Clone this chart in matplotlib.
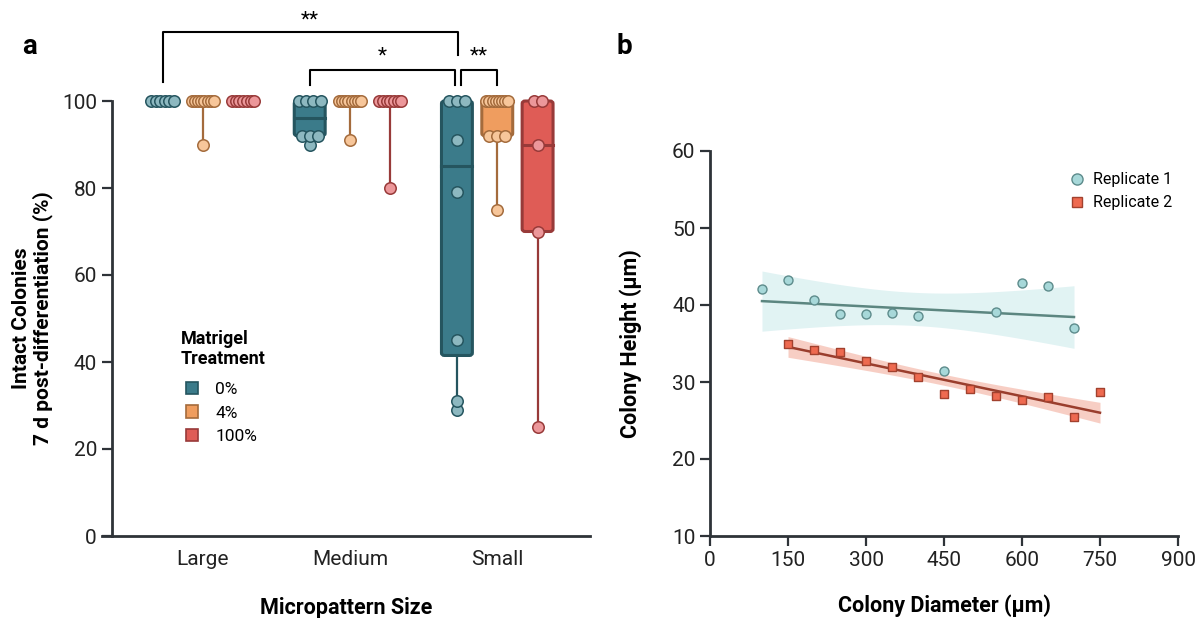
import numpy as np
import matplotlib
matplotlib.use('Agg')
import matplotlib.pyplot as plt
from matplotlib.patches import FancyBboxPatch, Patch
from matplotlib.lines import Line2D

plt.rcParams['font.family'] = ['Roboto', 'DejaVu Sans']

# ---- panel a data (percent intact colonies) ----
SIZES = ['Large', 'Medium', 'Small']
TREAT = ['0%', '4%', '100%']
large_0 = [100, 100, 100, 100, 100, 100]
large_4 = [100, 100, 100, 100, 100, 100, 100, 100, 90]
large_100 = [100, 100, 100, 100, 100, 100, 100]
medium_0 = [100, 100, 100, 100, 92, 92, 92, 90]
medium_4 = [100, 100, 100, 100, 100, 100, 100, 100, 91]
medium_100 = [100, 100, 100, 100, 100, 100, 100, 80]
small_0 = [100, 100, 100, 91, 79, 45, 31, 29]
small_4 = [100, 100, 100, 100, 100, 100, 100, 100, 92, 92, 92, 75]
small_100 = [100, 100, 90, 70, 25]
GROUPS = [[large_0, large_4, large_100],
          [medium_0, medium_4, medium_100],
          [small_0, small_4, small_100]]

# ---- panel b data ----
rep1_x = [100, 150, 200, 250, 300, 350, 400, 450, 550, 600, 650, 700]
rep1_y = [42.1, 43.3, 40.6, 38.8, 38.8, 38.9, 38.6, 31.4, 39.1, 42.9, 42.5, 37.0]
rep2_x = [150, 200, 250, 300, 350, 400, 450, 500, 550, 600, 650, 700, 750]
rep2_y = [35.0, 34.2, 33.9, 32.7, 31.9, 30.6, 28.4, 29.1, 28.2, 27.6, 28.0, 25.4, 28.7]

# (box fill, edge, dot fill)
PAL = [('#3B7B8A', '#25555F', '#8DB8C0'),
       ('#EF9D5F', '#A46B3C', '#F7C69A'),
       ('#DF5C56', '#983A39', '#EC979A')]
C_AX = '#2E3338'
T975 = {10: 2.228, 11: 2.201}
FS_TICK, FS_LAB = 15, 15.5

W, H = 1202, 618
fig = plt.figure(figsize=(W / 100, H / 100), dpi=100)


def px(l, b, r, t):
    return [l / W, 1 - b / H, (r - l) / W, (b - t) / H]


def style(ax):
    for s in ('top', 'right'):
        ax.spines[s].set_visible(False)
    for s in ('left', 'bottom'):
        ax.spines[s].set_color(C_AX)
        ax.spines[s].set_linewidth(2.0)
    ax.tick_params(colors=C_AX, labelcolor='#222222', width=1.6, length=7, labelsize=FS_TICK)


# ================= panel a =================
ax = fig.add_axes(px(102, 536, 590, 536 - 122 * 4.35))
style(ax)
ax.set_xlim(-0.685, 2.63)
ax.set_ylim(0, 122)
ax.spines['left'].set_position(('data', -0.616))
ax.spines['left'].set_bounds(0, 100)
ax.set_yticks(range(0, 101, 20))
ax.set_xticks(range(3))
ax.set_xticklabels(SIZES)
ax.tick_params(axis='x', length=0, pad=10)
ax.tick_params(axis='y', pad=4)

OFF = [-0.274, 0.0, 0.274]
BW = 0.21
for gi, grp in enumerate(GROUPS):
    for ti, vals in enumerate(grp):
        fc, ec, dc = PAL[ti]
        xc = gi + OFF[ti]
        v = np.array(vals, dtype=float)
        q1, med, q3 = np.percentile(v, [25, 50, 75])
        ax.plot([xc, xc], [v.min(), q1], color=ec, lw=1.6, zorder=2)
        ax.plot([xc, xc], [q3, v.max()], color=ec, lw=1.6, zorder=2)
        if q3 - q1 > 0:
            box = FancyBboxPatch((xc - BW / 2, q1), BW, q3 - q1,
                                 boxstyle='round,pad=0,rounding_size=0.02',
                                 mutation_aspect=30, fc=fc, ec=ec, lw=2.2, zorder=3)
            ax.add_patch(box)
            ax.plot([xc - BW / 2, xc + BW / 2], [med, med], color=ec, lw=2.2, zorder=4)
        # swarm-like spread of identical values
        for u in np.unique(v):
            k = int((v == u).sum())
            span = min((k - 1) * 0.055, 0.15)
            xs = xc + np.linspace(-span / 2, span / 2, k)
            ax.scatter(xs, [u] * k, s=68, fc=dc, ec=ec, lw=1.1, zorder=5, clip_on=False)

ax.set_xlabel('Micropattern Size', fontsize=FS_LAB, fontweight='bold')
ax.xaxis.set_label_coords(0.5, -0.115)
ax.set_ylabel('Intact Colonies\n7 d post-differentiation (%)', fontsize=FS_LAB - 0.5,
              fontweight='bold', linespacing=1.1)
ax.yaxis.set_label_coords(-0.1, 50 / 122)


def bracket(x0, x1, ytop, y0, y1, txt, ty):
    ax.plot([x0, x0, x1, x1], [y0, ytop, ytop, y1], color='black', lw=1.5,
            clip_on=False, zorder=6)
    ax.text((x0 + x1) / 2, ty, txt, ha='center', va='center', fontsize=15, clip_on=False)


bracket(-0.274, 1.733, 115.9, 104.4, 110.6, '**', 118.6)
bracket(0.726, 1.713, 107.1, 103.7, 103.7, '*', 110.4)
bracket(1.753, 2.0, 107.1, 103.7, 103.7, '**', 110.4)

# legend: title set separately so its gap to the entries matches
fig.text(181 / W, 1 - 349 / H, 'Matrigel\nTreatment', fontsize=13, fontweight='bold',
         ha='left', va='center', linespacing=1.1)
hdl = [Patch(fc=PAL[i][0], ec=PAL[i][1], lw=1.2) for i in range(3)]
ax.legend(hdl, TREAT, loc='upper left',
          bbox_to_anchor=(170 / W, 1 - 366 / H), bbox_transform=fig.transFigure,
          frameon=False, fontsize=12.5, handlelength=0.7, handleheight=0.7,
          handletextpad=1.0, labelspacing=0.5)

# ================= panel b =================
bx = fig.add_axes(px(710, 536, 1178, 151))
style(bx)
bx.set_xlim(0, 900)
bx.set_ylim(10, 60)
bx.set_xticks(range(0, 901, 150))
bx.set_yticks(range(10, 61, 10))


def fit(xv, yv, lc, bc, balpha):
    x = np.array(xv, float)
    y = np.array(yv, float)
    n = len(x)
    b, a = np.polyfit(x, y, 1)
    xx = np.linspace(x.min(), x.max(), 100)
    yy = a + b * xx
    res = y - (a + b * x)
    s = np.sqrt((res ** 2).sum() / (n - 2))
    sxx = ((x - x.mean()) ** 2).sum()
    se = s * np.sqrt(1 / n + (xx - x.mean()) ** 2 / sxx)
    h = T975[n - 2] * se
    bx.fill_between(xx, yy - h, yy + h, color=bc, alpha=balpha, lw=0, zorder=1)
    bx.plot(xx, yy, color=lc, lw=1.8, zorder=2)


fit(rep1_x, rep1_y, '#5C8680', '#CDEBEC', 0.6)
fit(rep2_x, rep2_y, '#9A3E2D', '#F3AE9E', 0.6)
bx.scatter(rep1_x, rep1_y, s=42, marker='o', fc='#A7D8D9', ec='#5D8B8B', lw=1.0, zorder=3)
bx.scatter(rep2_x, rep2_y, s=40, marker='s', fc='#EE6A50', ec='#A2412E', lw=1.0, zorder=3)

bx.set_xlabel('Colony Diameter (µm)', fontsize=FS_LAB, fontweight='bold')
bx.xaxis.set_label_coords(0.5, -0.153)
bx.set_ylabel('Colony Height (µm)', fontsize=FS_LAB, fontweight='bold')
bx.yaxis.set_label_coords(-0.145, 0.5)

lh = [Line2D([], [], ls='', marker='o', ms=8, mfc='#A7D8D9', mec='#5D8B8B', mew=1.0),
      Line2D([], [], ls='', marker='s', ms=7.5, mfc='#EE6A50', mec='#A2412E', mew=1.0)]
bx.legend(lh, ['Replicate 1', 'Replicate 2'], loc='upper left',
          bbox_to_anchor=(1047 / W, 1 - 158 / H), bbox_transform=fig.transFigure,
          frameon=False, fontsize=11.5, handletextpad=0.0, labelspacing=0.5)

fig.text(22 / W, 1 - 47 / H, 'a', fontsize=20, fontweight='bold', va='center')
fig.text(616 / W, 1 - 47 / H, 'b', fontsize=20, fontweight='bold', va='center')

fig.savefig('out.png', dpi=100)
